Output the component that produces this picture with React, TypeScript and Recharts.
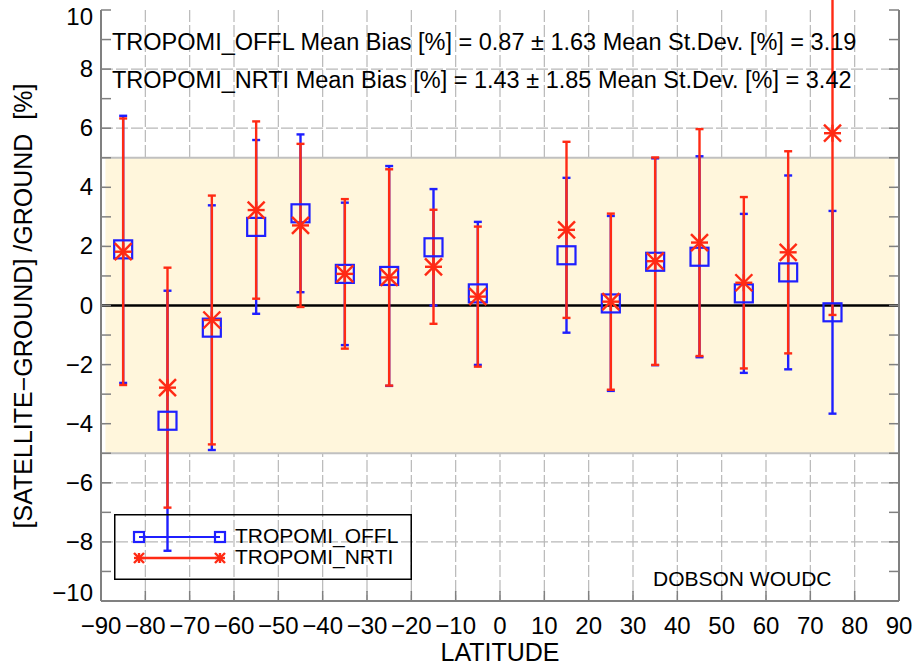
import {
  ScatterChart,
  Scatter,
  XAxis,
  YAxis,
  CartesianGrid,
  ErrorBar,
  ReferenceArea,
  ReferenceLine,
  Legend,
} from 'recharts';

const LATITUDES = [-85, -75, -65, -55, -45, -35, -25, -15, -5, 15, 25, 35, 45, 55, 65, 75];
const OFFL_BIAS = [1.9, -3.9, -0.75, 2.66, 3.12, 1.07, 1.0, 1.97, 0.41, 1.7, 0.07, 1.48, 1.65, 0.41, 1.12, -0.23];
const OFFL_STD = [4.52, 4.4, 4.14, 2.94, 2.67, 2.41, 3.72, 1.97, 2.42, 2.62, 2.96, 3.5, 3.4, 2.69, 3.28, 3.43];
const NRTI_BIAS = [1.82, -2.78, -0.49, 3.23, 2.71, 1.07, 0.95, 1.31, 0.3, 2.56, 0.13, 1.5, 2.13, 0.77, 1.8, 5.83];
const NRTI_STD = [4.51, 4.06, 4.21, 3.0, 2.76, 2.53, 3.66, 1.93, 2.37, 2.98, 2.98, 3.51, 3.84, 2.9, 3.42, 6.15];

const X_TICKS = [-90, -80, -70, -60, -50, -40, -30, -20, -10, 0, 10, 20, 30, 40, 50, 60, 70, 80, 90];
const Y_TICKS = [-10, -9, -8, -7, -6, -5, -4, -3, -2, -1, 0, 1, 2, 3, 4, 5, 6, 7, 8, 9, 10];
const Y_GRID = [-8, -6, -4, -2, 2, 4, 6, 8];
const X_GRID = [-80, -70, -60, -50, -40, -30, -20, -10, 0, 10, 20, 30, 40, 50, 60, 70, 80];

const SERIES_NAMES = ['TROPOMI_OFFL', 'TROPOMI_NRTI'];
const STATS_LINES = [
  'TROPOMI_OFFL Mean Bias [%] = 0.87 \u00b1 1.63 Mean St.Dev. [%] = 3.19',
  'TROPOMI_NRTI Mean Bias [%] = 1.43 \u00b1 1.85 Mean St.Dev. [%] = 3.42',
];

const BLUE = '#1f1fff';
const RED = '#ff2a14';
const FRAME = '#808080';
const GRID = '#b8b8b8';
const FONT = '"Liberation Sans", Arial, Helvetica, sans-serif';

const offl = LATITUDES.map((lat, i) => ({ lat, v: OFFL_BIAS[i], err: OFFL_STD[i] }));
const nrti = LATITUDES.map((lat, i) => ({ lat, v: NRTI_BIAS[i], err: NRTI_STD[i] }));

const fmt = (n: number) => (n < 0 ? '\u2212' + Math.abs(n) : String(n));

const Square = ({ cx, cy, s = 9 }: any) => (
  <rect x={cx - s} y={cy - s} width={s * 2} height={s * 2} fill="none" stroke={BLUE} strokeWidth={2.2} />
);

const Star = ({ cx, cy, s = 8.5 }: any) => (
  <g stroke={RED} strokeWidth={2.4}>
    <line x1={cx - s} y1={cy - s} x2={cx + s} y2={cy + s} />
    <line x1={cx - s} y1={cy + s} x2={cx + s} y2={cy - s} />
    <line x1={cx - s} y1={cy} x2={cx + s} y2={cy} />
    <line x1={cx} y1={cy - s} x2={cx} y2={cy + s} />
  </g>
);

// labels at the ends of the axis are pulled inside, as in the IDL plot
const labelShift = (v: number) => (v === 10 ? 15 : v === -10 ? 0 : 8);

const LeftTick = ({ x, y, payload }: any) => (
  <g>
    <line x1={x} x2={x + 10} y1={y} y2={y} stroke={FRAME} strokeWidth={1.5} />
    {payload.value % 2 === 0 && (
      <text x={x - 8} y={y + labelShift(payload.value)} textAnchor="end" fontSize={24} fill="#000" fontFamily={FONT}>
        {fmt(payload.value)}
      </text>
    )}
  </g>
);

const RightTick = ({ x, y }: any) => (
  <line x1={x - 10} x2={x} y1={y} y2={y} stroke={FRAME} strokeWidth={1.5} />
);

const BottomTick = ({ x, y, payload }: any) => (
  <g>
    <line x1={x} x2={x} y1={y - 10} y2={y} stroke={FRAME} strokeWidth={1.5} />
    <text x={x} y={y + 33} textAnchor="middle" fontSize={24} fill="#000" fontFamily={FONT}>
      {fmt(payload.value)}
    </text>
  </g>
);

const TopTick = ({ x, y }: any) => (
  <line x1={x} x2={x} y1={y} y2={y + 10} stroke={FRAME} strokeWidth={1.5} />
);

const LegendBox = () => (
  <svg width={298} height={66} style={{ display: 'block', overflow: 'visible' }}>
    <rect x={0.75} y={0.75} width={296.5} height={64.5} fill="none" stroke="#000" strokeWidth={1.5} />
    <line x1={25} x2={106} y1={23} y2={23} stroke={BLUE} strokeWidth={2} />
    <Square cx={25} cy={23} s={5} />
    <Square cx={106} cy={23} s={5} />
    <line x1={25} x2={106} y1={44} y2={44} stroke={RED} strokeWidth={2.4} />
    <Star cx={25} cy={44} s={5} />
    <Star cx={106} cy={44} s={5} />
    <text x={121} y={29} fontSize={21} fontFamily={FONT} fill="#000">{SERIES_NAMES[0]}</text>
    <text x={121} y={50} fontSize={21} fontFamily={FONT} fill="#000">{SERIES_NAMES[1]}</text>
  </svg>
);

export default function App() {
  return (
    <div style={{ position: 'absolute', left: 0, top: 0, width: 915, height: 666, background: '#fff' }}>
      <ScatterChart
        width={915}
        height={666}
        margin={{ top: 10, right: 0, bottom: 0, left: 0 }}
        style={{ fontFamily: FONT }}
      >
        <CartesianGrid
          stroke={GRID}
          strokeWidth={1.2}
          strokeDasharray="12 3"
          horizontalValues={Y_GRID}
          verticalValues={X_GRID}
        />
        <ReferenceArea x1={-89} x2={89} y1={-5} y2={5} fill="#fff6dc" fillOpacity={1} stroke="none" />
        <ReferenceLine y={5} stroke="#c0c0c0" strokeWidth={2} />
        <ReferenceLine y={-5} stroke="#c0c0c0" strokeWidth={2} />
        <ReferenceLine y={0} stroke="#000" strokeWidth={2.5} />
        <XAxis
          type="number"
          dataKey="lat"
          domain={[-90, 90]}
          ticks={X_TICKS}
          interval={0}
          allowDataOverflow
          height={65}
          tickSize={0}
          tickMargin={0}
          tickLine={false}
          tick={BottomTick}
          axisLine={{ stroke: FRAME, strokeWidth: 2 }}
        />
        <XAxis
          xAxisId="top"
          orientation="top"
          type="number"
          domain={[-90, 90]}
          ticks={X_TICKS}
          interval={0}
          allowDataOverflow
          height={0}
          tickSize={0}
          tickMargin={0}
          tickLine={false}
          tick={TopTick}
          axisLine={{ stroke: FRAME, strokeWidth: 2 }}
        />
        <YAxis
          type="number"
          dataKey="v"
          domain={[-10, 10]}
          ticks={Y_TICKS}
          interval={0}
          allowDataOverflow
          width={101}
          tickSize={0}
          tickMargin={0}
          tickLine={false}
          tick={LeftTick}
          axisLine={{ stroke: FRAME, strokeWidth: 2 }}
        />
        <YAxis
          yAxisId="right"
          orientation="right"
          type="number"
          domain={[-10, 10]}
          ticks={Y_TICKS}
          interval={0}
          allowDataOverflow
          width={16}
          tickSize={0}
          tickMargin={0}
          tickLine={false}
          tick={RightTick}
          axisLine={{ stroke: FRAME, strokeWidth: 2 }}
        />
        <Scatter name={SERIES_NAMES[0]} data={offl} shape={<Square />} isAnimationActive={false}>
          <ErrorBar dataKey="err" direction="y" width={4} stroke={BLUE} strokeWidth={2.4} isAnimationActive={false} />
        </Scatter>
        <Scatter name={SERIES_NAMES[1]} data={nrti} shape={<Star />} isAnimationActive={false}>
          <ErrorBar dataKey="err" direction="y" width={4} stroke={RED} strokeWidth={2.4} isAnimationActive={false} />
        </Scatter>
        <Legend
          layout="horizontal"
          verticalAlign="middle"
          align="center"
          content={() => <LegendBox />}
          wrapperStyle={{ left: 114, top: 514, width: 298, height: 66 }}
        />
      </ScatterChart>
      <svg
        width={915}
        height={666}
        style={{ position: 'absolute', left: 0, top: 0, pointerEvents: 'none', fontFamily: FONT }}
      >
        <text x={112} y={50} fontSize={23.5} fill="#000">{STATS_LINES[0]}</text>
        <text x={112} y={88} fontSize={23.5} fill="#000">{STATS_LINES[1]}</text>
        <text x={653} y={586} fontSize={21} fill="#000">DOBSON WOUDC</text>
        <text x={500} y={661} fontSize={25} fill="#000" textAnchor="middle">LATITUDE</text>
        <text
          x={0}
          y={0}
          transform="translate(32 306) rotate(-90)"
          fontSize={25}
          fill="#000"
          textAnchor="middle"
          xmlSpace="preserve"
          style={{ whiteSpace: 'pre' }}
        >
          {'[SATELLITE\u2212GROUND] /GROUND  [%]'}
        </text>
      </svg>
    </div>
  );
}
